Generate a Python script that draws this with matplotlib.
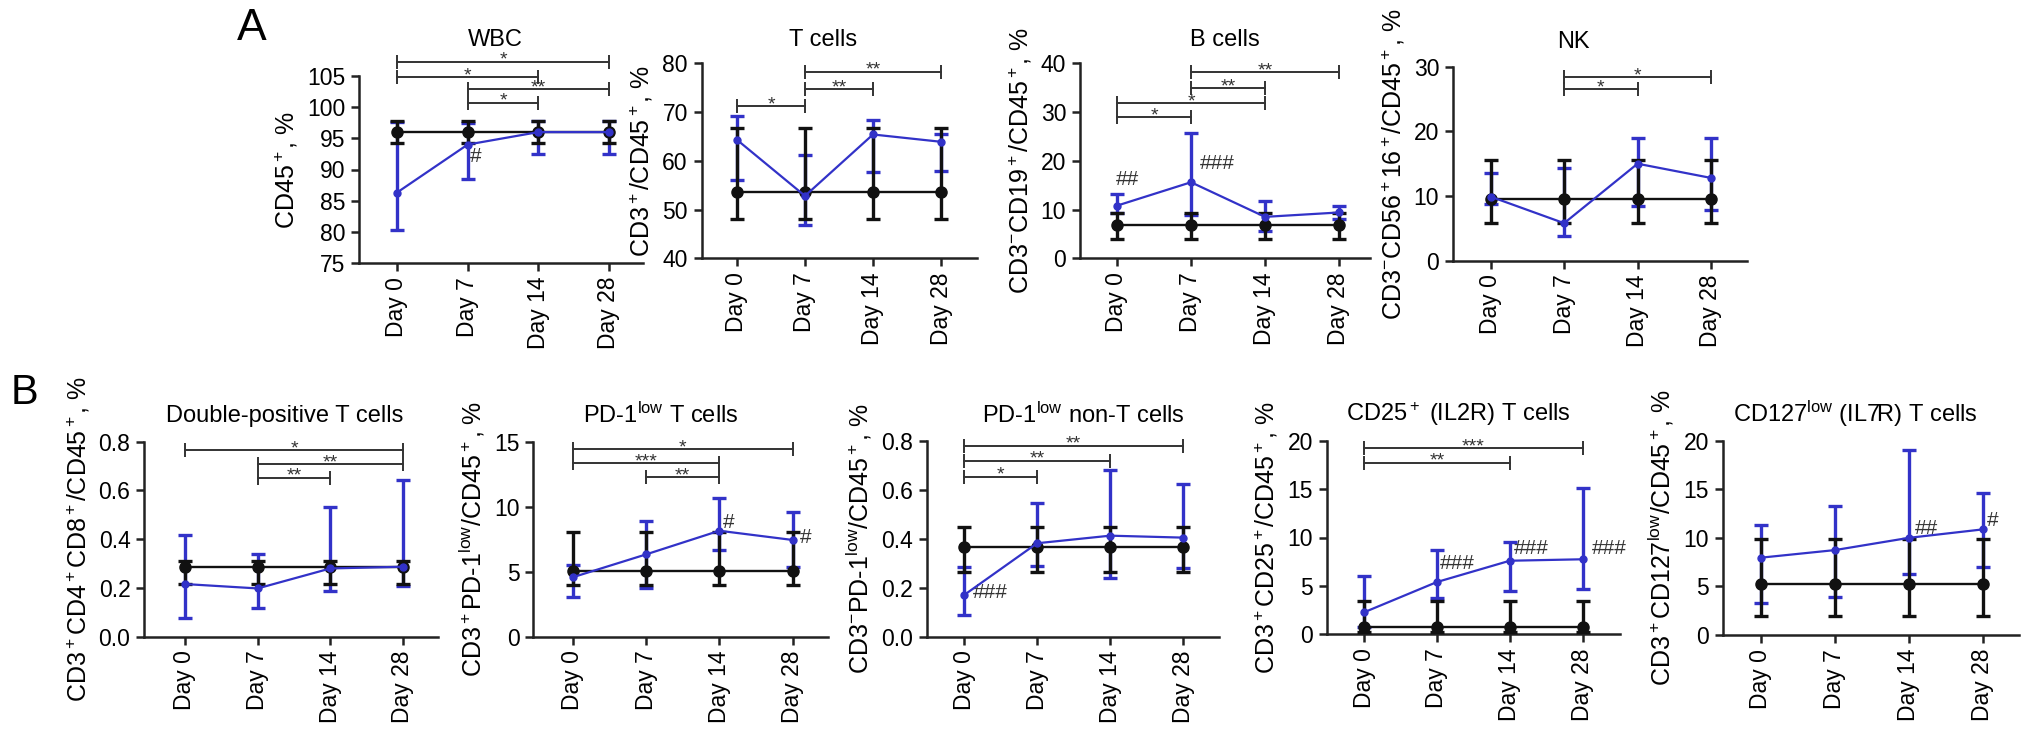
import matplotlib
matplotlib.use('Agg')
import matplotlib.pyplot as plt
import numpy as np

plt.rcParams['font.family'] = ['Liberation Sans', 'DejaVu Sans']
plt.rcParams['mathtext.fontset'] = 'custom'
plt.rcParams['mathtext.rm'] = 'Liberation Sans'
plt.rcParams['mathtext.it'] = 'Liberation Sans:italic'
plt.rcParams['mathtext.default'] = 'regular'

W, H = 2032, 736
BLUE = '#3232c8'

DAYS = ['Day 0', 'Day 7', 'Day 14', 'Day 28']

# ---- data ----
# blue = patients over time, black = reference group (constant)
wbc_blue = [86.3, 94.0, 96.0, 96.0]
wbc_blue_lo = [80.3, 88.5, 92.5, 92.5]
wbc_blue_hi = [97.7, 97.5, 97.8, 97.8]
wbc_ref = [96.0, 96.0, 96.0, 96.0]
wbc_ref_lo = [94.3, 94.3, 94.3, 94.3]
wbc_ref_hi = [97.8, 97.8, 97.8, 97.8]

t_blue = [64.3, 52.8, 65.4, 63.9]
t_blue_lo = [56.1, 46.8, 57.8, 58.0]
t_blue_hi = [69.2, 61.2, 68.4, 65.6]
t_ref = [53.5, 53.5, 53.5, 53.5]
t_ref_lo = [48.0, 48.0, 48.0, 48.0]
t_ref_hi = [66.8, 66.8, 66.8, 66.8]

b_blue = [10.8, 15.6, 8.5, 9.4]
b_blue_lo = [9.2, 8.9, 5.5, 8.0]
b_blue_hi = [13.2, 25.8, 11.8, 10.8]
b_ref = [6.8, 6.8, 6.8, 6.8]
b_ref_lo = [3.9, 3.9, 3.9, 3.9]
b_ref_hi = [9.2, 9.2, 9.2, 9.2]

nk_blue = [9.9, 5.8, 15.0, 12.8]
nk_blue_lo = [8.8, 3.8, 8.5, 7.8]
nk_blue_hi = [13.5, 14.3, 18.9, 18.9]
nk_ref = [9.5, 9.5, 9.5, 9.5]
nk_ref_lo = [5.8, 5.8, 5.8, 5.8]
nk_ref_hi = [15.5, 15.5, 15.5, 15.5]

dp_blue = [0.216, 0.198, 0.28, 0.287]
dp_blue_lo = [0.075, 0.119, 0.189, 0.208]
dp_blue_hi = [0.417, 0.338, 0.533, 0.643]
dp_ref = [0.285, 0.285, 0.285, 0.285]
dp_ref_lo = [0.215, 0.215, 0.215, 0.215]
dp_ref_hi = [0.31, 0.31, 0.31, 0.31]

pdt_blue = [4.57, 6.33, 8.15, 7.44]
pdt_blue_lo = [3.08, 3.77, 6.67, 5.38]
pdt_blue_hi = [5.5, 8.9, 10.7, 9.6]
pdt_ref = [5.05, 5.05, 5.05, 5.05]
pdt_ref_lo = [3.97, 3.97, 3.97, 3.97]
pdt_ref_hi = [8.08, 8.08, 8.08, 8.08]

pdn_blue = [0.17, 0.382, 0.413, 0.405]
pdn_blue_lo = [0.089, 0.29, 0.239, 0.28]
pdn_blue_hi = [0.286, 0.545, 0.681, 0.623]
pdn_ref = [0.368, 0.368, 0.368, 0.368]
pdn_ref_lo = [0.266, 0.266, 0.266, 0.266]
pdn_ref_hi = [0.447, 0.447, 0.447, 0.447]

cd25_blue = [2.27, 5.4, 7.6, 7.75]
cd25_blue_lo = [0.8, 3.7, 4.5, 4.68]
cd25_blue_hi = [6.06, 8.7, 9.5, 15.1]
cd25_ref = [0.72, 0.72, 0.72, 0.72]
cd25_ref_lo = [0.2, 0.2, 0.2, 0.2]
cd25_ref_hi = [3.44, 3.44, 3.44, 3.44]

cd127_blue = [7.96, 8.74, 10.0, 10.87]
cd127_blue_lo = [3.26, 3.87, 6.24, 7.0]
cd127_blue_hi = [11.3, 13.3, 19.0, 14.6]
cd127_ref = [5.25, 5.25, 5.25, 5.25]
cd127_ref_lo = [2.0, 2.0, 2.0, 2.0]
cd127_ref_hi = [9.84, 9.84, 9.84, 9.84]

TITLES = ['WBC', 'T cells', 'B cells', 'NK',
          'Double-positive T cells', 'PD-1$^{low}$ T cells',
          'PD-1$^{low}$ non-T cells', 'CD25$^+$ (IL2R) T cells',
          'CD127$^{low}$ (IL7R) T cells']
YLABELS = ['CD45$^+$, %', 'CD3$^+$/CD45$^+$, %',
           'CD3$^{-}$CD19$^+$/CD45$^+$, %', 'CD3$^{-}$CD56$^+$16$^+$/CD45$^+$, %',
           'CD3$^+$CD4$^+$CD8$^+$/CD45$^+$, %', 'CD3$^+$PD-1$^{low}$/CD45$^+$, %',
           'CD3$^{-}$PD-1$^{low}$/CD45$^+$, %', 'CD3$^+$CD25$^+$/CD45$^+$, %',
           'CD3$^+$CD127$^{low}$/CD45$^+$, %']
YTICKS = [[75, 80, 85, 90, 95, 100, 105], [40, 50, 60, 70, 80], [0, 10, 20, 30, 40],
          [0, 10, 20, 30], [0.0, 0.2, 0.4, 0.6, 0.8], [0, 5, 10, 15],
          [0.0, 0.2, 0.4, 0.6, 0.8], [0, 5, 10, 15, 20], [0, 5, 10, 15, 20]]

# significance brackets: (from day, to day, stars, height)
BRACKETS = [
    [(0, 3, '*', 107.3), (0, 2, '*', 104.8), (1, 3, '**', 102.9), (1, 2, '*', 100.7)],
    [(0, 1, '*', 71.2), (1, 2, '**', 74.7), (1, 3, '**', 78.3)],
    [(0, 1, '*', 28.9), (0, 2, '*', 31.8), (1, 2, '**', 34.9), (1, 3, '**', 38.2)],
    [(1, 2, '*', 26.5), (1, 3, '*', 28.4)],
    [(0, 3, '*', 0.766), (1, 3, '**', 0.707), (1, 2, '**', 0.652)],
    [(0, 3, '*', 14.44), (0, 2, '***', 13.33), (1, 2, '**', 12.26)],
    [(0, 3, '**', 0.78), (0, 2, '**', 0.72), (0, 1, '*', 0.654)],
    [(0, 3, '***', 19.2), (0, 2, '**', 17.7)],
    [],
]

# '#' marks vs reference: (day, text)
HASHES = [[(1, '#')], [], [(0, '##'), (1, '###')], [], [],
          [(2, '#'), (3, '#')], [(0, '###')],
          [(1, '###'), (2, '###'), (3, '###')], [(2, '##'), (3, '#')]]
# pixel offsets of those marks from their point
HASH_OFFSETS = [[(8, 12)], [], [(10, -26), (26, -19)], [], [],
                [(9, -8), (13, -2)], [(26, -3)],
                [(20, -19), (22, -12), (27, -11)], [(18, -9), (10, -9)]]

# layout in pixels: spine left, spine right, top, bottom, day0 x, day28 x, title x, title y
LAYOUT = [
    (359, 643, 76, 263, 397, 609, 495, 40),
    (701.7, 977, 63.3, 258.3, 737, 941, 823, 40),
    (1080, 1370, 63.3, 258.3, 1117, 1339, 1225, 40),
    (1453, 1746.7, 66.7, 260.7, 1490.7, 1711, 1573, 42),
    (144.3, 438, 441.7, 636.7, 185, 403, 285, 416),
    (533.3, 828, 441.7, 636.7, 572.7, 792.7, 661, 415),
    (926.7, 1219, 441, 636.7, 964, 1183.3, 1083, 415),
    (1326.7, 1620, 440.7, 634.3, 1364, 1582.7, 1458, 414),
    (1722.7, 2019, 440.7, 635, 1761, 1982.7, 1855, 414),
]

BLUE_SERIES = [(wbc_blue, wbc_blue_lo, wbc_blue_hi), (t_blue, t_blue_lo, t_blue_hi),
               (b_blue, b_blue_lo, b_blue_hi), (nk_blue, nk_blue_lo, nk_blue_hi),
               (dp_blue, dp_blue_lo, dp_blue_hi), (pdt_blue, pdt_blue_lo, pdt_blue_hi),
               (pdn_blue, pdn_blue_lo, pdn_blue_hi), (cd25_blue, cd25_blue_lo, cd25_blue_hi),
               (cd127_blue, cd127_blue_lo, cd127_blue_hi)]
REF_SERIES = [(wbc_ref, wbc_ref_lo, wbc_ref_hi), (t_ref, t_ref_lo, t_ref_hi),
              (b_ref, b_ref_lo, b_ref_hi), (nk_ref, nk_ref_lo, nk_ref_hi),
              (dp_ref, dp_ref_lo, dp_ref_hi), (pdt_ref, pdt_ref_lo, pdt_ref_hi),
              (pdn_ref, pdn_ref_lo, pdn_ref_hi), (cd25_ref, cd25_ref_lo, cd25_ref_hi),
              (cd127_ref, cd127_ref_lo, cd127_ref_hi)]

fig = plt.figure(figsize=(W / 100, H / 100), dpi=100)
x = np.arange(len(DAYS))

for k in range(9):
    x0, x1, yt, yb, d0, d28, tx, ty = LAYOUT[k]
    ax = fig.add_axes([x0 / W, 1 - yb / H, (x1 - x0) / W, (yb - yt) / H])
    s = (d28 - d0) / 3
    ax.set_xlim((x0 - d0) / s, 3 + (x1 - d28) / s)

    m, lo, hi = [np.array(v) for v in BLUE_SERIES[k]]
    ax.errorbar(x, m, yerr=[m - lo, hi - m], fmt='none', ecolor=BLUE,
                elinewidth=2.4, capsize=5, capthick=2.4, zorder=2, clip_on=False)
    rm, rlo, rhi = [np.array(v) for v in REF_SERIES[k]]
    ax.errorbar(x, rm, yerr=[rm - rlo, rhi - rm], fmt='-o', color='#111111',
                ms=8, lw=1.7, elinewidth=2.4, capsize=5, capthick=2.4, zorder=3,
                clip_on=False)
    ax.plot(x, m, '-o', color=BLUE, ms=5, lw=1.6, zorder=4, clip_on=False)

    yt_list = YTICKS[k]
    ax.set_ylim(yt_list[0], yt_list[-1])
    ax.set_yticks(yt_list)
    if isinstance(yt_list[0], float):
        ax.set_yticklabels([f'{v:.1f}' for v in yt_list])
    ax.set_xticks(x)
    ax.set_xticklabels(DAYS, rotation=90)
    ax.tick_params(labelsize=16.5, width=1.8, length=6, pad=4, color='#222222')
    for side in ['top', 'right']:
        ax.spines[side].set_visible(False)
    for side in ['left', 'bottom']:
        ax.spines[side].set_linewidth(1.8)
        ax.spines[side].set_color('#222222')
    ax.set_ylabel(YLABELS[k], fontsize=18, labelpad=5)

    for i, j, lab, yv in BRACKETS[k]:
        ax.plot([i, j], [yv, yv], color='#333333', lw=1.4, marker='|', ms=10,
                mew=1.4, clip_on=False, zorder=5)
        ax.annotate(lab, ((i + j) / 2, yv), xytext=(0, -3), textcoords='offset pixels',
                    ha='center', va='baseline', fontsize=14, color='#333333',
                    annotation_clip=False)

    for (d, lab), (dx, dy) in zip(HASHES[k], HASH_OFFSETS[k]):
        ax.annotate(lab, (x[d], m[d]), xytext=(dx, -dy), textcoords='offset pixels',
                    ha='center', va='center', fontsize=15, color='#333333',
                    annotation_clip=False)

    fig.text(tx / W, 1 - ty / H, TITLES[k], ha='center', va='center', fontsize=17)

fig.text(252 / W, 1 - 29 / H, 'A', ha='center', va='center', fontsize=32)
fig.text(25 / W, 1 - 393 / H, 'B', ha='center', va='center', fontsize=30)

fig.savefig('out.png', dpi=100)
